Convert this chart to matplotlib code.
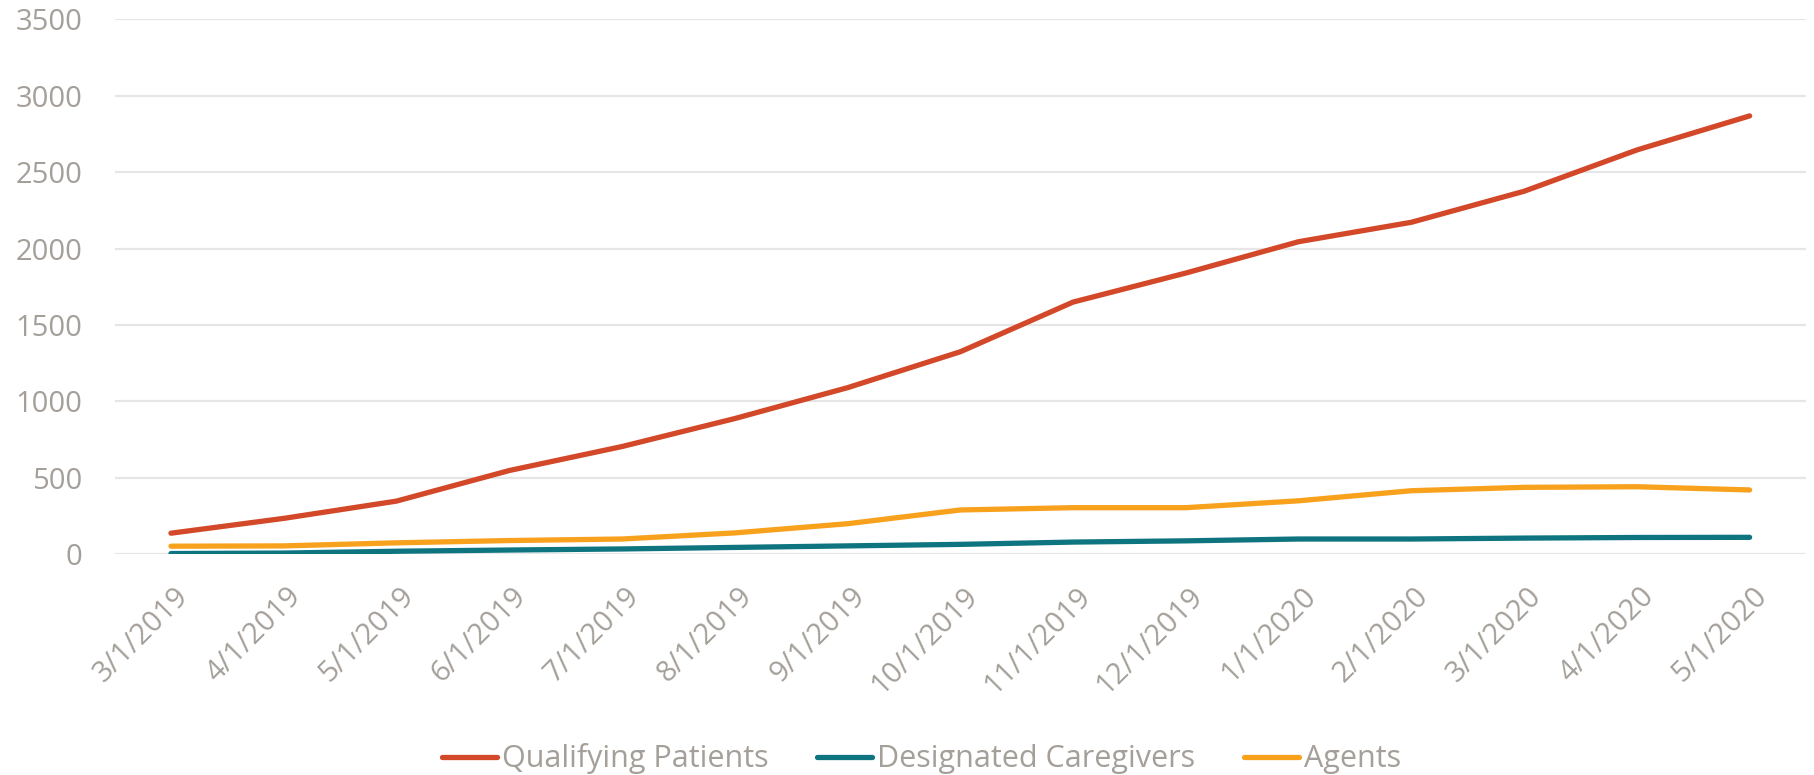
import matplotlib
matplotlib.use("Agg")
import matplotlib.pyplot as plt
import matplotlib.transforms as mtransforms

# data
months = ['3/1/2019', '4/1/2019', '5/1/2019', '6/1/2019', '7/1/2019', '8/1/2019',
          '9/1/2019', '10/1/2019', '11/1/2019', '12/1/2019', '1/1/2020', '2/1/2020',
          '3/1/2020', '4/1/2020', '5/1/2020']
patients = [138, 235, 348, 548, 705, 888, 1090, 1325, 1650, 1840, 2045, 2172, 2375, 2645, 2868]
caregivers = [5, 8, 20, 28, 35, 45, 55, 65, 80, 88, 100, 100, 106, 110, 111]
agents = [53, 55, 75, 90, 100, 140, 200, 290, 305, 305, 350, 416, 438, 442, 421]

text_color = '#A59F99'
plt.rcParams['font.family'] = ['Open Sans', 'DejaVu Sans']

fig = plt.figure(figsize=(18.14, 7.75), dpi=100)
ax = fig.add_axes([114.6 / 1814, 220.7 / 775, (1806 - 114.6) / 1814, (554.3 - 19.3) / 775])

x = range(len(months))
ax.plot(x, patients, color='#D34828', linewidth=3.8, solid_capstyle='round',
        solid_joinstyle='round', label='Qualifying Patients', zorder=3)
ax.plot(x, caregivers, color='#0E7580', linewidth=3.8, solid_capstyle='round',
        solid_joinstyle='round', label='Designated Caregivers', zorder=3)
ax.plot(x, agents, color='#F8A11D', linewidth=3.8, solid_capstyle='round',
        solid_joinstyle='round', label='Agents', zorder=3)

ax.set_xlim(-0.5, len(months) - 0.5)
ax.set_ylim(0, 3500)
ax.set_yticks(range(0, 3501, 500))
ax.grid(axis='y', color='#E6E6E6', linewidth=1.6, zorder=0)
ax.set_axisbelow(True)
for s in ax.spines.values():
    s.set_visible(False)

ax.tick_params(axis='y', length=0, pad=23, labelsize=21, labelcolor=text_color)
ax.tick_params(axis='x', length=0, pad=27, labelsize=21, labelcolor=text_color)
ax.set_xticks(list(x))
ax.set_xticklabels(months, rotation=45, ha='right', va='center', rotation_mode='anchor')
# nudge the slanted labels a little to the right, as in the original
shift = mtransforms.ScaledTranslation(13 / 100, 0, fig.dpi_scale_trans)
for lbl in ax.get_xticklabels():
    lbl.set_transform(lbl.get_transform() + shift)

leg = fig.legend(loc='center', bbox_to_anchor=(0.508, 0.021), ncol=3, frameon=False,
                 fontsize=22, handlelength=1.8, handletextpad=0.15, columnspacing=1.6)
for t in leg.get_texts():
    t.set_color(text_color)

fig.savefig('out.png', dpi=100)
